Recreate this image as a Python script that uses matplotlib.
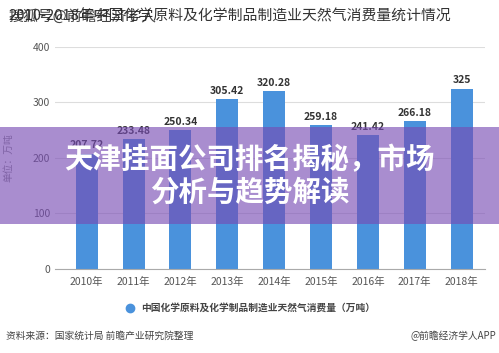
import matplotlib
matplotlib.use("Agg")
import matplotlib.pyplot as plt
from matplotlib.patches import Rectangle
from matplotlib.lines import Line2D

plt.rcParams['font.family'] = ['Noto Sans CJK SC', 'DejaVu Sans']

years = ["2010年", "2011年", "2012年", "2013年", "2014年", "2015年", "2016年", "2017年", "2018年"]
values = [207.72, 233.48, 250.34, 305.42, 320.28, 259.18, 241.42, 266.18, 325]
labels = ["207.72", "233.48", "250.34", "305.42", "320.28", "259.18", "241.42", "266.18", "325"]
yticks = [0, 100, 200, 300, 400]

BAR = "#4a92dc"

fig = plt.figure(figsize=(4.99, 3.53), dpi=100)
fig.patch.set_facecolor("white")
ax = fig.add_axes([0.110, 0.238, 0.862, 0.629])

x = range(len(years))
ax.bar(x, values, width=0.47, color=BAR, zorder=2)
for xi, v, lab in zip(x, values, labels):
    ax.text(xi, v + 6, lab, ha="center", va="bottom", fontsize=7.5,
            fontweight="bold", color="#333333")

ax.set_xlim(-0.68, 8.5)
ax.set_ylim(0, 400)
ax.set_yticks(yticks)
ax.set_xticks(list(x))
ax.set_xticklabels(years)
ax.grid(axis="y", color="#dddddd", linewidth=0.8, zorder=0)
ax.tick_params(axis="both", length=0, labelsize=7.5, colors="#555555")
ax.tick_params(axis="x", pad=6)
for s in ("top", "right", "left"):
    ax.spines[s].set_visible(False)
ax.spines["bottom"].set_color("#aaaaaa")
ax.set_ylabel("单位：万吨", fontsize=7, color="#888888", labelpad=14)

# title, with the site watermark printed over its start
fig.text(0.016, 0.955, "2010-2018年中国化学原料及化学制品制造业天然气消费量统计情况",
         fontsize=10.7, color="#333333", va="center", ha="left")
fig.text(0.016, 0.955, "搜狐号@前瞻经济学人", fontsize=10.7, color="#222222",
         va="center", ha="left", alpha=0.85)

# legend
fig.add_artist(Line2D([0.26], [0.127], marker="o", color=BAR, markersize=6,
                      linestyle="none", transform=fig.transFigure))
fig.text(0.283, 0.127, "中国化学原料及化学制品制造业天然气消费量（万吨）",
         fontsize=7, fontweight="bold", color="#444444", va="center")

# footer
fig.text(0.012, 0.048, "资料来源：国家统计局 前瞻产业研究院整理", fontsize=7,
         color="#444444", va="center")
fig.text(0.995, 0.048, "@前瞻经济学人APP", fontsize=7, color="#444444",
         va="center", ha="right")

# purple banner overlay
fig.add_artist(Rectangle((0, 0.365), 1, 0.275, transform=fig.transFigure,
                         facecolor=(120/255, 75/255, 180/255), alpha=0.63,
                         edgecolor="none", zorder=10))
fig.text(0.5, 0.547, "天津挂面公司排名揭秘，市场", fontsize=20.5, fontweight="bold",
         color="white", ha="center", va="center", zorder=11)
fig.text(0.5, 0.455, "分析与趋势解读", fontsize=20.5, fontweight="bold",
         color="white", ha="center", va="center", zorder=11)

fig.savefig("out.png", dpi=100)
